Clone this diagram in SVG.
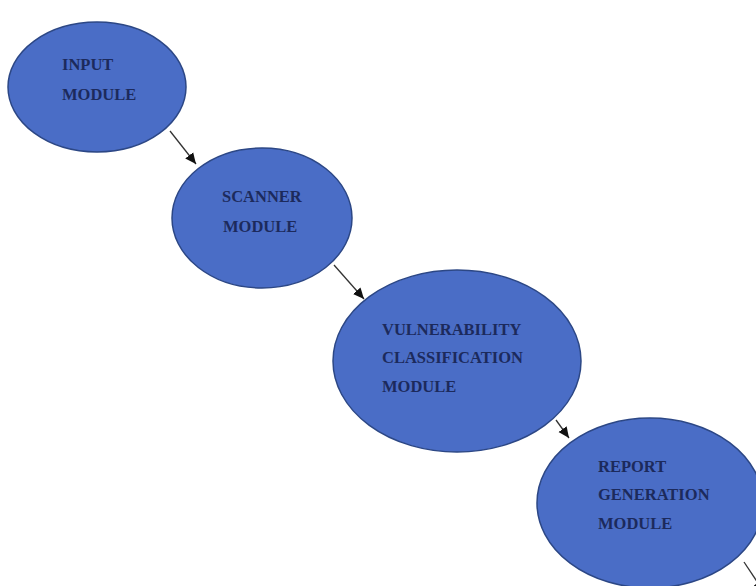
<svg xmlns="http://www.w3.org/2000/svg" width="756" height="586" viewBox="0 0 756 586">
<style>
.node{fill:#4a6dc6;stroke:#2c4785;stroke-width:1.5}
.lbl{font-family:"Liberation Serif","Times New Roman",serif;font-size:16.5px;font-weight:bold;fill:#1c2a5c}
.conn{stroke:#333;stroke-width:1.3;fill:none;marker-end:url(#ah)}
</style>
<defs>
<marker id="ah" markerWidth="12" markerHeight="12" refX="11" refY="6" orient="auto" markerUnits="userSpaceOnUse">
<path d="M0,1 L11,6 L0,11 Z" fill="#111"/>
</marker>
</defs>
<rect width="756" height="586" fill="#fff"/>
<g id="connectors">
<line class="conn" x1="170" y1="131" x2="196" y2="164"/>
<line class="conn" x1="334" y1="265" x2="364" y2="299"/>
<line class="conn" x1="556" y1="420" x2="569" y2="438"/>
<line class="conn" x1="744" y1="562" x2="764" y2="592"/>
</g>
<g id="input">
<ellipse class="node" cx="97" cy="87" rx="89" ry="65"/>
<text class="lbl" x="62" y="70">INPUT</text>
<text class="lbl" x="62" y="100">MODULE</text>
</g>
<g id="scanner">
<ellipse class="node" cx="262" cy="218" rx="90" ry="70"/>
<text class="lbl" x="222" y="202">SCANNER</text>
<text class="lbl" x="223" y="232">MODULE</text>
</g>
<g id="vuln">
<ellipse class="node" cx="457" cy="361" rx="124" ry="91"/>
<text class="lbl" x="382" y="335">VULNERABILITY</text>
<text class="lbl" x="382" y="363">CLASSIFICATION</text>
<text class="lbl" x="382" y="392">MODULE</text>
</g>
<g id="report">
<ellipse class="node" cx="650" cy="503" rx="113" ry="85"/>
<text class="lbl" x="598" y="472">REPORT</text>
<text class="lbl" x="598" y="500">GENERATION</text>
<text class="lbl" x="598" y="529">MODULE</text>
</g>
</svg>
